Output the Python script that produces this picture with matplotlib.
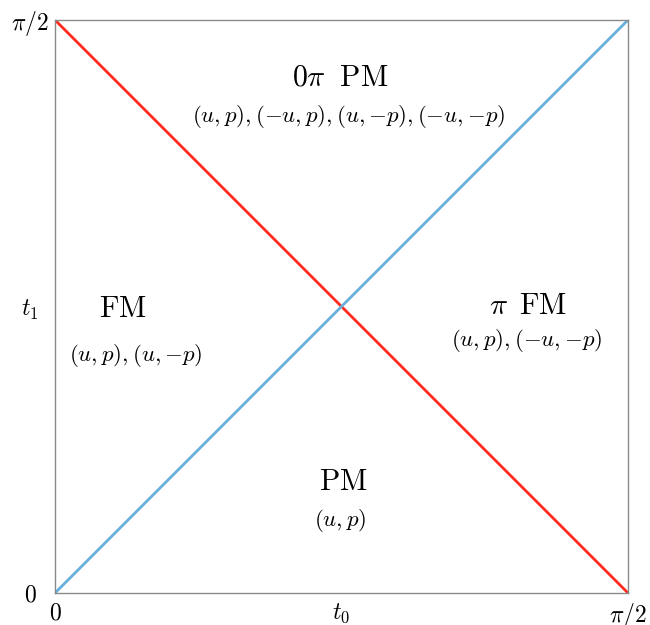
import numpy as np
import matplotlib
matplotlib.use("Agg")
import matplotlib.pyplot as plt

plt.rcParams["mathtext.fontset"] = "cm"
plt.rcParams["font.family"] = "serif"

HALF_PI = np.pi / 2

# ── Data ──────────────────────────────────────────────────────
boundary_x = [0, HALF_PI]
red_y      = [HALF_PI, 0]
blue_y     = [0, HALF_PI]

tick_vals   = [0, np.pi / 4, HALF_PI]
xtick_text  = [r"$0$", r"$t_0$", r"$\pi/2$"]
ytick_text  = [r"$0$", r"$t_1$", r"$\pi/2$"]

# region label, symmetry list, (x, y) as fraction of axis
regions = [
    (r"$0\pi\ \;\mathrm{PM}$", r"$(u,p),({-}u,p),(u,{-}p),({-}u,{-}p)$", (0.497, 0.899), (0.513, 0.831)),
    (r"$\mathrm{FM}$",         r"$(u,p),(u,{-}p)$",                      (0.119, 0.496), (0.141, 0.415)),
    (r"$\pi\ \,\mathrm{FM}$",  r"$(u,p),({-}u,{-}p)$",                   (0.825, 0.501), (0.823, 0.440)),
    (r"$\mathrm{PM}$",         r"$(u,p)$",                               (0.503, 0.194), (0.497, 0.127)),
]

# ── Chart ─────────────────────────────────────────────────────
fig = plt.figure(figsize=(6.5, 6.25), dpi=100)
ax = fig.add_axes([55 / 650, 32 / 625, 573 / 650, 573 / 625])

ax.plot(boundary_x, red_y,  color="#ff2b1c", lw=2.0, solid_capstyle="butt")
ax.plot(boundary_x, blue_y, color="#68b0dc", lw=2.0, solid_capstyle="butt")

for name, sym, pos_name, pos_sym in regions:
    ax.text(pos_name[0] * HALF_PI, pos_name[1] * HALF_PI, name,
            fontsize=21.5, ha="center", va="center")
    ax.text(pos_sym[0] * HALF_PI, pos_sym[1] * HALF_PI, sym,
            fontsize=16.5, ha="center", va="center")

ax.set_xlim(0, HALF_PI)
ax.set_ylim(0, HALF_PI)
ax.set_xticks(tick_vals)
ax.set_xticklabels(xtick_text, fontsize=17)
ax.set_yticks(tick_vals)
ax.set_yticklabels(ytick_text, fontsize=17, ha="center")
ax.tick_params(axis="x", length=0, pad=6)
ax.tick_params(axis="y", length=0, pad=18)
for sp in ax.spines.values():
    sp.set_color("#8a8a8a")
    sp.set_linewidth(1.0)

fig.savefig("out.png", dpi=100)
